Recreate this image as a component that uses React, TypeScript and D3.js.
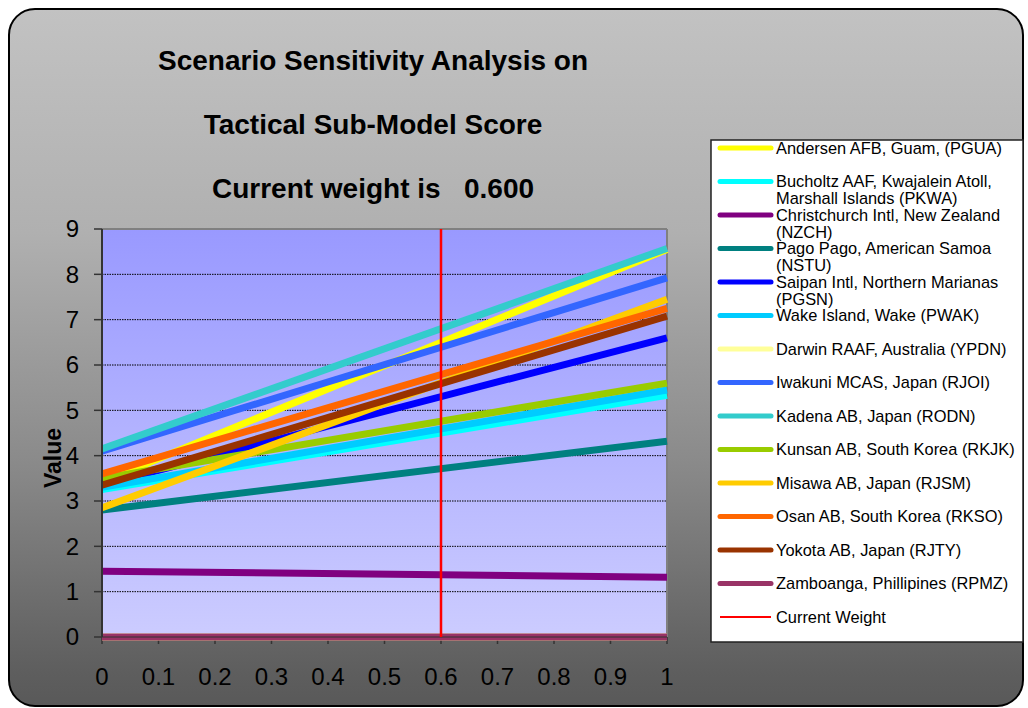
import React from "react";
import * as d3 from "d3";

const weights = [0, 1];
const seriesNames = [
  "Andersen AFB, Guam, (PGUA)",
  "Bucholtz AAF, Kwajalein Atoll, Marshall Islands (PKWA)",
  "Christchurch Intl, New Zealand (NZCH)",
  "Pago Pago, American Samoa (NSTU)",
  "Saipan Intl, Northern Marianas (PGSN)",
  "Wake Island, Wake (PWAK)",
  "Darwin RAAF, Australia (YPDN)",
  "Iwakuni MCAS, Japan (RJOI)",
  "Kadena AB, Japan (RODN)",
  "Kunsan AB, South Korea (RKJK)",
  "Misawa AB, Japan (RJSM)",
  "Osan AB, South Korea (RKSO)",
  "Yokota AB, Japan (RJTY)",
  "Zamboanga, Phillipines (RPMZ)",
];
const seriesColors = [
  "#FFFF00", "#00FFFF", "#800080", "#008080", "#0000FF", "#00CCFF", "#FFFF99",
  "#3366FF", "#33CCCC", "#99CC00", "#FFCC00", "#FF6600", "#993300", "#993366",
];
const andersen = [3.42, 8.55];
const bucholtz = [3.25, 5.33];
const christchurch = [1.45, 1.32];
const pagoPago = [2.8, 4.32];
const saipan = [3.35, 6.6];
const wake = [3.3, 5.45];
const darwin = [0, 0];
const iwakuni = [4.1, 7.92];
const kadena = [4.15, 8.57];
const kunsan = [3.5, 5.6];
const misawa = [2.85, 7.45];
const osan = [3.6, 7.25];
const yokota = [3.35, 7.08];
const zamboanga = [0, 0];
const seriesValues = [
  andersen, bucholtz, christchurch, pagoPago, saipan, wake, darwin,
  iwakuni, kadena, kunsan, misawa, osan, yokota, zamboanga,
];
const currentWeight = 0.6;
const yTicks = [0, 1, 2, 3, 4, 5, 6, 7, 8, 9];
const xTicks = [0, 0.1, 0.2, 0.3, 0.4, 0.5, 0.6, 0.7, 0.8, 0.9, 1];
const titleLines = [
  "Scenario Sensitivity Analysis on",
  "Tactical Sub-Model Score",
  "Current weight is   0.600",
];

const FONT = "'Liberation Sans', Arial, sans-serif";
const LEG_FONT_SIZE = 16.4;

let measureCtx: CanvasRenderingContext2D | null = null;
function textWidth(s: string) {
  if (!measureCtx) {
    const c = document.createElement("canvas");
    measureCtx = c.getContext("2d");
  }
  if (!measureCtx) return s.length * 8;
  measureCtx.font = `${LEG_FONT_SIZE}px 'Liberation Sans', Arial, sans-serif`;
  return measureCtx.measureText(s).width;
}
function wrap(s: string, max: number): string[] {
  const words = s.split(" ");
  const lines: string[] = [];
  let cur = "";
  for (const w of words) {
    const t = cur ? cur + " " + w : w;
    if (cur && textWidth(t) > max) {
      lines.push(cur);
      cur = w;
    } else cur = t;
  }
  if (cur) lines.push(cur);
  return lines;
}

export default function App() {
  const W = 1028, H = 708;
  const x = d3.scaleLinear().domain([0, 1]).range([102, 667]);
  const y = d3.scaleLinear().domain([0, 9]).range([637, 229]);
  const line = d3
    .line<[number, number]>()
    .x((d) => x(d[0]))
    .y((d) => y(d[1]));

  const legX = 711, legY = 140, legW = 312, legH = 502;
  const rowY = d3.scaleLinear().domain([0, 14]).range([148, 617]);
  const legendItems = [
    ...seriesNames.map((n, i) => ({ name: n, color: seriesColors[i], w: 5, cap: "round" })),
    { name: "Current Weight", color: "#FF0000", w: 2, cap: "butt" },
  ];

  return (
    <svg width={W} height={H} style={{ position: "absolute", left: 0, top: 0 }}>
      <defs>
        <linearGradient id="bg" x1="0" y1="0" x2="0" y2="1">
          <stop offset="0" stopColor="#c2c2c2" />
          <stop offset="0.32" stopColor="#b0b0b0" />
          <stop offset="0.65" stopColor="#8a8a8a" />
          <stop offset="0.95" stopColor="#5e5e5e" />
          <stop offset="1" stopColor="#595959" />
        </linearGradient>
        <linearGradient id="plotbg" x1="0" y1="0" x2="0" y2="1">
          <stop offset="0" stopColor="#9999FF" />
          <stop offset="1" stopColor="#CCCCFF" />
        </linearGradient>
        <clipPath id="plotclip">
          <rect x={95} y={220} width={585} height={430} />
        </clipPath>
      </defs>
      <rect x={9} y={9} width={1014} height={697} rx={26} ry={26} fill="url(#bg)" stroke="#000" strokeWidth={2} />

      {titleLines.map((t, i) => (
        <text key={i} x={373} y={60 + i * 64} dy="0.35em" textAnchor="middle"
          fontFamily={FONT} fontWeight="bold" fontSize={28} fill="#000" style={{ whiteSpace: "pre" }}>
          {t}
        </text>
      ))}

      <rect x={x(0)} y={y(9)} width={x(1) - x(0)} height={y(0) - y(9)} fill="url(#plotbg)" />
      {yTicks.filter((t) => t > 0 && t < 9).map((t) => (
        <line key={t} x1={x(0)} x2={x(1)} y1={y(t)} y2={y(t)} stroke="#000" strokeWidth={1} strokeDasharray="1.5 1" />
      ))}
      <line x1={x(0)} x2={x(1)} y1={y(9)} y2={y(9)} stroke="#808080" strokeWidth={2} />
      <line x1={x(1)} x2={x(1)} y1={y(9)} y2={y(0)} stroke="#808080" strokeWidth={2} />

      {yTicks.map((t) => (
        <g key={t}>
          <line x1={x(0) - 8} x2={x(0)} y1={y(t)} y2={y(t)} stroke="#333" strokeWidth={1.5} />
          <text x={79} y={y(t)} dy="0.35em" textAnchor="end" fontFamily={FONT} fontSize={24} fill="#000">
            {t}
          </text>
        </g>
      ))}
      {xTicks.map((t) => (
        <g key={t}>
          <line x1={x(t)} x2={x(t)} y1={y(0)} y2={y(0) + 7} stroke="#333" strokeWidth={1.5} />
          <text x={x(t)} y={677} dy="0.35em" textAnchor="middle" fontFamily={FONT} fontSize={24} fill="#000">
            {d3.format("~g")(t)}
          </text>
        </g>
      ))}
      <text transform="translate(53,458) rotate(-90)" dy="0.35em" textAnchor="middle"
        fontFamily={FONT} fontWeight="bold" fontSize={23} fill="#000">
        Value
      </text>

      <g clipPath="url(#plotclip)">
        {seriesValues.map((vals, i) => (
          <path key={i} d={line(weights.map((w, j) => [w, vals[j]] as [number, number])) || ""}
            fill="none" stroke={seriesColors[i]} strokeWidth={7} />
        ))}
      </g>
      <line x1={x(0)} x2={x(0)} y1={y(9)} y2={y(0)} stroke="#333" strokeWidth={2} />
      <line x1={x(0)} x2={x(1)} y1={y(0)} y2={y(0)} stroke="#333" strokeWidth={1} />
      <line x1={x(currentWeight)} x2={x(currentWeight)} y1={y(9)} y2={y(0)} stroke="#FF0000" strokeWidth={2.5} />

      <rect x={legX} y={legY} width={legW} height={legH} fill="#fff" stroke="#222" strokeWidth={1.5} />
      {legendItems.map((it, i) => {
        const cy = rowY(i);
        const lines = wrap(it.name, 246);
        return (
          <g key={i}>
            <line x1={720} x2={771} y1={cy} y2={cy} stroke={it.color} strokeWidth={it.w}
              strokeLinecap={it.cap as any} />
            <text x={776} y={cy} fontFamily={FONT} fontSize={LEG_FONT_SIZE} fill="#000">
              {lines.map((l, k) => (
                <tspan key={k} x={776} dy={k === 0 ? "0.35em" : 17}>
                  {l}
                </tspan>
              ))}
            </text>
          </g>
        );
      })}
    </svg>
  );
}
